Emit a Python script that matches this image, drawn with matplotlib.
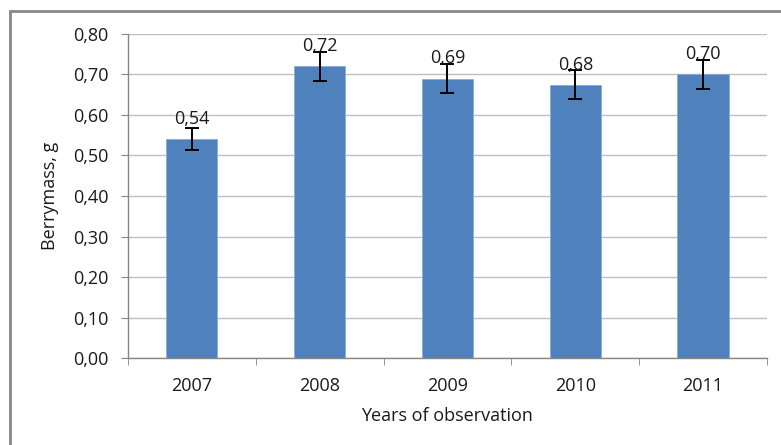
import matplotlib
matplotlib.use('Agg')
import matplotlib.pyplot as plt
from matplotlib.patches import Rectangle
from matplotlib.ticker import FuncFormatter, FixedLocator

years = ['2007', '2008', '2009', '2010', '2011']
berry_mass = [0.54, 0.72, 0.69, 0.675, 0.70]
errors = [0.027, 0.036, 0.035, 0.035, 0.035]
labels = ['0,54', '0,72', '0,69', '0,68', '0,70']

plt.rcParams['font.family'] = ['Open Sans', 'DejaVu Sans']
fs = 13
tc = '#1a1a1a'

fig = plt.figure(figsize=(7.81, 4.45), dpi=100)
ax = fig.add_axes([0.1639, 0.1955, 0.982 - 0.1639, 0.9236 - 0.1955])

x = list(range(len(years)))
ax.bar(x, berry_mass, width=0.4, color='#4F81BD', edgecolor='#8CAAD8', linewidth=0.6, zorder=3)
ax.errorbar(x, berry_mass, yerr=errors, fmt='none', ecolor='black',
            elinewidth=1.4, capsize=5, capthick=1.4, zorder=4)

for xi, v, lab in zip(x, berry_mass, labels):
    ax.annotate(lab, (xi, v), xytext=(0, 8), textcoords='offset points',
                ha='center', va='bottom', fontsize=fs, color=tc, zorder=5)

ax.set_xlim(-0.5, 4.5)
ax.set_ylim(0, 0.8)
ax.set_yticks([i / 10 for i in range(9)])
ax.yaxis.set_major_formatter(FuncFormatter(lambda v, p: f'{v:.2f}'.replace('.', ',')))
ax.set_xticks(x)
ax.set_xticklabels(years)
ax.xaxis.set_minor_locator(FixedLocator([i - 0.5 for i in range(6)]))
ax.tick_params(axis='x', which='major', length=0, pad=14, labelsize=fs, labelcolor=tc)
ax.tick_params(axis='x', which='minor', length=5, color='#868686', direction='out')
ax.tick_params(axis='y', length=5, color='#868686', labelsize=fs, labelcolor=tc, pad=9)

ax.grid(axis='y', color='#BFBFBF', linewidth=1, zorder=0)
for s in ['top', 'right']:
    ax.spines[s].set_visible(False)
for s in ['left', 'bottom']:
    ax.spines[s].set_color('#868686')
    ax.spines[s].set_linewidth(1)

ax.set_xlabel('Years of observation', fontsize=fs, color=tc, labelpad=8)
ax.set_ylabel('Berrymass, g', fontsize=fs, color=tc, labelpad=10)

# outer chart frame (only left and top edges are visible in the picture)
fig.patches.append(Rectangle((10 / 781, -0.1), 1.2, 1 - 11 / 445 + 0.1,
                             transform=fig.transFigure, fill=False,
                             edgecolor='#888888', linewidth=2, clip_on=False))

fig.savefig('out.png', dpi=100)
